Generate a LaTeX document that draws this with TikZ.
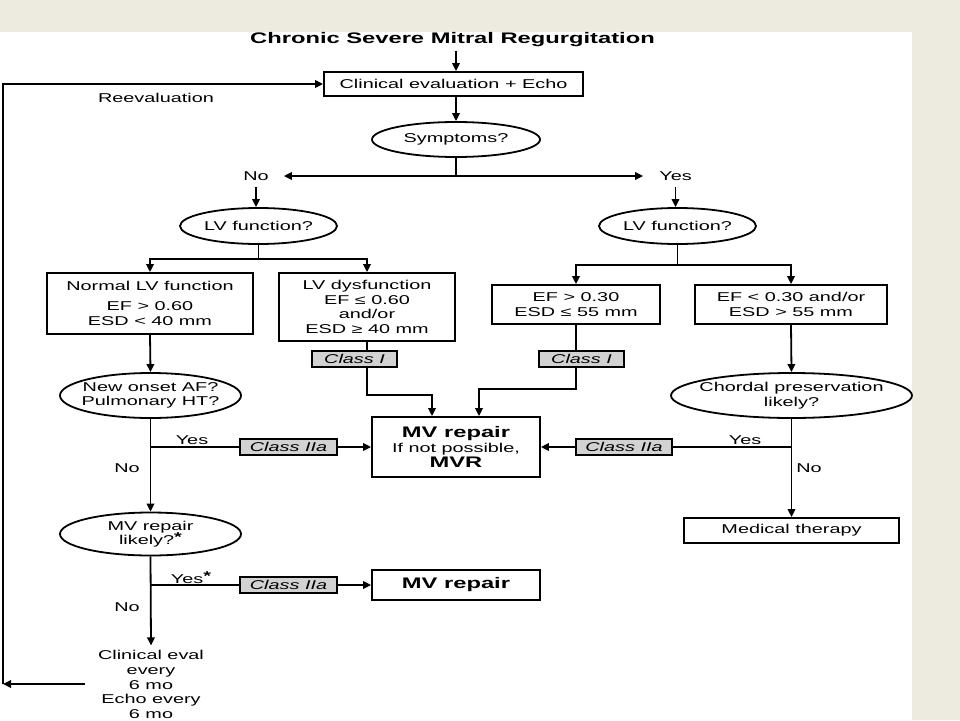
\documentclass[tikz,border=0pt]{standalone}
\usepackage{fontspec}
\setmainfont{Liberation Sans}[FakeStretch=1.55]
\usetikzlibrary{arrows.meta,shapes.geometric}
\definecolor{beige}{RGB}{237,234,224}
\definecolor{classgray}{RGB}{210,210,210}
\newcommand{\myBody}{\fontsize{12.8pt}{14.6pt}\selectfont}
\newcommand{\myBig}{\fontsize{15.3pt}{16pt}\selectfont\bfseries}
\newcommand{\myStar}{\raisebox{3pt}{\textbf{*}}}
\begin{document}
\begin{tikzpicture}[x=1pt,y=-1pt,
  every node/.style={font=\myBody},
  ln/.style={line width=1.8pt},
  arr/.style={line width=1.8pt,-{Triangle[length=8pt,width=7.5pt]}},
  box/.style={draw,line width=1.8pt,inner sep=0pt,align=center,fill=white},
  ell/.style={draw,ellipse,line width=1.8pt,inner sep=0pt,fill=white},
  cls/.style={draw,fill=classgray,line width=1.4pt,inner sep=0pt,font=\myBody\itshape,minimum height=16pt},
  lbl/.style={inner sep=0pt,align=center}]
\useasboundingbox (0,0) rectangle (960,720);
\fill[beige] (0,0) rectangle (960,720);
\fill[white] (0,32) rectangle (912,720);

% title and top
\node[lbl,font=\myBig] (title) at (452.5,39.3) {Chronic Severe Mitral Regurgitation};
\node[box,minimum width=259pt,minimum height=24pt] (clin) at (453.5,84) {Clinical evaluation + Echo};
\node[ell,minimum width=168pt,minimum height=35pt] (symp) at (456,139.5) {};
\node[lbl] at (symp) {Symptoms?};
\draw[arr] ([yshift=-4pt]symp.north |- title.south) -- (symp.north |- clin.north);
\draw[arr] (symp.north |- clin.south) -- (symp.north);

% yes / no split
\coordinate (sj) at (456,176);
\node[lbl,inner xsep=15pt,inner ysep=6.4pt] (noT) at (256,176) {No};
\node[lbl,inner xsep=16pt,inner ysep=6.4pt] (yesT) at (675.5,176) {Yes};
\draw[ln] (symp.south) -- (sj);
\draw[arr] (sj) -- (noT.east);
\draw[arr] (sj) -- (yesT.west);

% LV function ellipses
\node[ell,minimum width=157pt,minimum height=36pt] (lvl) at (258.5,226) {};
\node[lbl] at (lvl) {LV function?};
\node[ell,minimum width=157pt,minimum height=36pt] (lvr) at (677.5,226) {};
\node[lbl] at (lvr) {LV function?};
\draw[arr] (noT.south) -- (noT.south |- lvl.north);
\draw[arr] (yesT.south) -- (yesT.south |- lvr.north);

% left boxes
\node[box,minimum width=206pt,minimum height=61pt] (norm) at (150,303.5) {Normal LV function\\[5pt]EF > 0.60\\ESD < 40 mm};
\node[box,minimum width=176pt,minimum height=68pt] (dys) at (367,307) {LV dysfunction\\EF ≤ 0.60\\and/or\\ESD ≥ 40 mm};
\coordinate (fl) at (258.5,259);
\draw[ln] (lvl.south) -- (fl);
\draw[arr] (fl) -| (norm.north);
\draw[arr] (fl) -| (dys.north);

% right boxes
\node[box,minimum width=168pt,minimum height=39pt] (ef30) at (576,304.5) {EF > 0.30\\ESD ≤ 55 mm};
\node[box,minimum width=192pt,minimum height=39pt] (ef30b) at (791,304.5) {EF < 0.30 and/or\\ESD > 55 mm};
\coordinate (fr) at (677.5,265);
\draw[ln] (lvr.south) -- (fr);
\draw[arr] (fr) -| (ef30.north);
\draw[arr] (fr) -| (ef30b.north);

% class I boxes
\node[cls,minimum width=85pt] (c1l) at (354.5,359) {Class I};
\node[cls,minimum width=85pt] (c1r) at (581.5,359) {Class I};
\node[box,minimum width=168pt,minimum height=60pt] (mvr) at (456,447) {{\myBig MV repair}\\If not possible,\\{\myBig MVR}};
\draw[ln] (dys.south) -- (dys.south |- c1l.north);
\draw[ln] (ef30.south) -- (ef30.south |- c1r.north);
\draw[arr] (dys.south |- c1l.south) -- ++(0,27) -| ([xshift=-24pt]mvr.north);
\draw[arr] (ef30.south |- c1r.south) -- ++(0,21) -| ([xshift=23pt]mvr.north);

% left middle
\node[ell,minimum width=181pt,minimum height=45pt] (new) at (150.5,395.5) {};
\node[lbl] at (new) {New onset AF?\\Pulmonary HT?};
\draw[arr] (norm.south) -- (new.north);
\node[ell,minimum width=181pt,minimum height=43pt] (mvl) at (150.5,534) {};
\node[lbl] at (mvl) {MV repair\\likely?\myStar};
\draw[arr] (new.south) -- (mvl.north);
\coordinate (jl1) at (150.5,447);
\node[cls,minimum width=97pt] (c2l) at (288.5,447) {Class IIa};
\draw[ln] (jl1) -- (c2l.west);
\draw[arr] (c2l.east) -- (mvr.west);
\node[lbl] (yl1) at (192,440) {Yes};
\node[lbl] (nl1) at (127,468) {No};

% right middle
\node[ell,minimum width=241pt,minimum height=45pt] (chord) at (791.5,395.5) {};
\node[lbl] at (chord) {Chordal preservation\\likely?};
\draw[arr] (ef30b.south) -- (chord.north);
\node[box,minimum width=215pt,minimum height=25pt] (med) at (791.5,530.5) {Medical therapy};
\draw[arr] (chord.south) -- (med.north);
\coordinate (jr1) at (791.5,447);
\node[cls,minimum width=96pt] (c2r) at (624,447) {Class IIa};
\draw[ln] (jr1) -- (c2r.east);
\draw[arr] (c2r.west) -- (mvr.east);
\node[lbl] (yr1) at (745,440) {Yes};
\node[lbl] (nr1) at (809,468) {No};

% bottom left
\coordinate (jl2) at (150.5,585);
\node[cls,minimum width=97pt] (c2l2) at (288.5,585) {Class IIa};
\node[box,minimum width=168pt,minimum height=30pt,font=\myBig] (mvr2) at (456,585) {MV repair};
\draw[ln] (jl2) -- (c2l2.west);
\draw[arr] (c2l2.east) -- (mvr2.west);
\node[lbl] (yl2) at (191,578) {Yes\myStar};
\node[lbl] (nl2) at (127,607) {No};
\node[lbl,inner xsep=13pt,inner ysep=5pt] (cev) at (151,684.5) {Clinical eval\\every\\6 mo\\Echo every\\6 mo};
\draw[arr] (mvl.south) -- (cev.north);

% reevaluation loop
\coordinate (loopB) at (3,684);
\coordinate (loopT) at (3,84);
\draw[arr] (cev.west |- loopB) -- (loopB);
\draw[arr] (loopB) -- (loopT) -- (clin.west);
\node[lbl] (reev) at (156,98) {Reevaluation};
\end{tikzpicture}
\end{document}
